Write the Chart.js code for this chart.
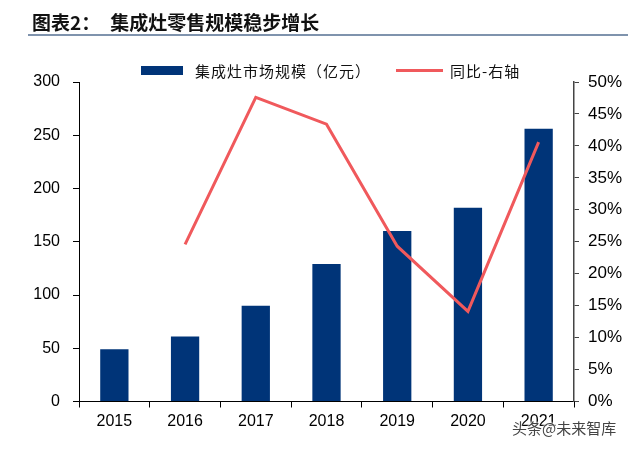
<!DOCTYPE html>
<html>
<head>
<meta charset="utf-8">
<script src="https://cdn.jsdelivr.net/npm/chart.js@4"></script>
<style>
    html, body { margin: 0; padding: 0; background: #fff; }
    #wrap { position: relative; width: 640px; height: 449px; overflow: hidden; font-family: "Liberation Sans", Arial, sans-serif; }
    #title { position: absolute; left: 32px; top: 8px; font: bold 19px "Noto Sans CJK SC", sans-serif; color: #111; white-space: nowrap; line-height: 28px; }
    #title .sp { display: inline-block; width: 10px; }
    #rule { position: absolute; left: 28px; top: 34px; width: 600px; height: 2px; background: #7f93ad; }
    .legend { position: absolute; top: 60px; font: 15px "Noto Sans CJK SC", sans-serif; color: #111; white-space: nowrap; line-height: 22px; letter-spacing: 1px; }
    .swatch { position: absolute; }
    #chartBox { position: absolute; left: 0; top: 0; width: 640px; height: 449px; }
    #mark { position: absolute; left: 512px; top: 417px; font: 15px "Noto Sans CJK SC", sans-serif; color: #444; white-space: nowrap;
            text-shadow: 0 0 2px #fff, 0 0 2px #fff, 0 0 3px #fff; }
</style>
</head>
<body>
<div id="wrap">
    <div id="chartBox"><canvas id="chart" width="640" height="449"></canvas></div>
    <div id="title">图表2：<span class="sp"></span>集成灶零售规模稳步增长</div>
    <div id="rule"></div>
    <div class="swatch" style="left:141px; top:66px; width:42px; height:9px; background:#003478;"></div>
    <div class="legend" style="left:195px;">集成灶市场规模（亿元）</div>
    <div class="swatch" style="left:396px; top:69px; width:47px; height:3px; background:#f0595c;"></div>
    <div class="legend" style="left:450px;">同比-右轴</div>
    <div id="mark">头条@未来智库</div>
</div>
<script>
const years = ['2015', '2016', '2017', '2018', '2019', '2020', '2021'];
const marketSize = [49, 61, 90, 129, 160, 182, 256];
const yoyGrowth = [null, 24.6, 47.6, 43.4, 24.3, 14.1, 40.6];
const leftTicks = [0, 50, 100, 150, 200, 250, 300];
const rightTicks = [0, 5, 10, 15, 20, 25, 30, 35, 40, 45, 50];

const tickFont = { family: '"Liberation Sans", Arial, sans-serif', size: 16 };

const ctx = document.getElementById('chart').getContext('2d');
new Chart(ctx, {
    data: {
        labels: years,
        datasets: [
            {
                type: 'line',
                data: yoyGrowth,
                yAxisID: 'y1',
                borderColor: '#f0595c',
                borderWidth: 3,
                pointRadius: 0,
                tension: 0,
                order: 0
            },
            {
                type: 'bar',
                data: marketSize,
                yAxisID: 'y',
                backgroundColor: '#003478',
                barPercentage: 0.4,
                categoryPercentage: 1,
                order: 1
            }
        ]
    },
    options: {
        responsive: false,
        animation: false,
        layout: { padding: { top: 82, left: 0, right: 0, bottom: 0 } },
        plugins: { legend: { display: false }, tooltip: { enabled: false } },
        scales: {
            x: {
                grid: { drawOnChartArea: false, tickLength: 6, color: '#000', offset: true },
                border: { color: '#000', width: 1 },
                ticks: { color: '#000', font: tickFont, padding: 4 },
                afterFit: (s) => { s.height = 47.5; }
            },
            y: {
                position: 'left',
                min: 0, max: 300,
                afterBuildTicks: (s) => { s.ticks = leftTicks.map(v => ({ value: v })); },
                grid: { drawOnChartArea: false, tickLength: 6, color: '#000' },
                border: { color: '#000', width: 1 },
                ticks: { color: '#000', font: tickFont, padding: 13 },
                afterFit: (s) => { s.width = 79; }
            },
            y1: {
                position: 'right',
                min: 0, max: 50,
                afterBuildTicks: (s) => { s.ticks = rightTicks.map(v => ({ value: v })); },
                grid: { drawOnChartArea: false, tickLength: 5, color: '#444' },
                border: { color: '#444', width: 1.5 },
                ticks: { color: '#000', font: { family: tickFont.family, size: 17 }, padding: 9, callback: (v) => v + '%' },
                afterFit: (s) => { s.width = 66; }
            }
        }
    }
});
</script>
</body>
</html>
